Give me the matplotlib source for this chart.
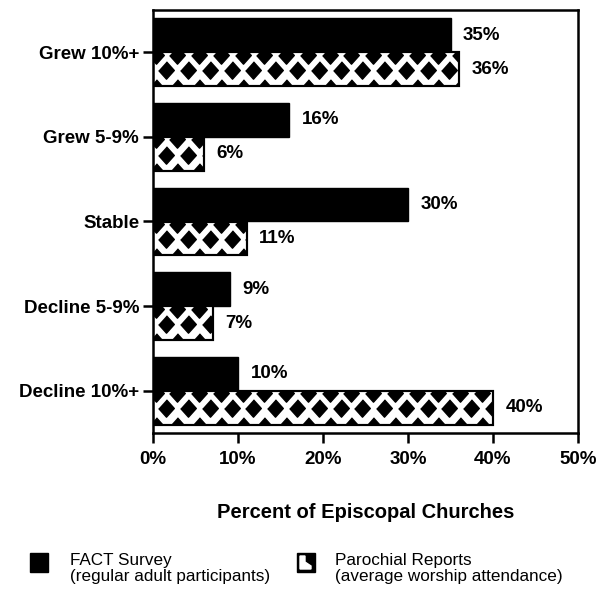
import numpy as np
import matplotlib.pyplot as plt
from matplotlib.patches import Rectangle, Polygon

plt.rcParams['font.family'] = ['Liberation Sans', 'DejaVu Sans']

categories = ['Grew 10%+', 'Grew 5-9%', 'Stable', 'Decline 5-9%', 'Decline 10%+']
fact_survey = [35, 16, 30, 9, 10]
parochial = [36, 6, 11, 7, 40]
xticks = [0, 10, 20, 30, 40, 50]

fig = plt.figure(figsize=(6.03, 5.99), dpi=100)
ax = fig.add_axes([153 / 603, 1 - 433 / 599, 425 / 603, 423 / 599])

y = np.arange(len(categories))
h = 0.4

ax.barh(y - h / 2, fact_survey, height=h, color='black', edgecolor='black', linewidth=1)
bars = ax.barh(y + h / 2, parochial, height=h, color='white', edgecolor='black', linewidth=1.5, zorder=2)

# diamond pattern inside the parochial bars
diamond = [(0, 1), (0.9, 0), (0, -1), (-0.9, 0)]
step = 2.56
for yi, val, bar in zip(y, parochial, bars):
    top = yi + 0.03
    rows = [(top, 0.3), (yi + h / 2 + 0.01, 0.3 + step / 2), (yi + h + 0.02, 0.3)]
    for ry, off in rows:
        xs = np.arange(off, val + step, step)
        pts, = ax.plot(xs, np.full_like(xs, ry), linestyle='none', marker=diamond,
                       markersize=12.5, color='black', zorder=3)
        pts.set_clip_path(bar)
    frame = Rectangle((0, yi), val, h, fill=False, edgecolor='black', linewidth=1.5, zorder=4)
    ax.add_patch(frame)

for yi, v in zip(y, fact_survey):
    ax.annotate(f'{v}%', (v, yi - h / 2), xytext=(9, 0), textcoords='offset points',
                va='center', ha='left', fontsize=13.5, fontweight='bold')
for yi, v in zip(y, parochial):
    ax.annotate(f'{v}%', (v, yi + h / 2), xytext=(9, 0), textcoords='offset points',
                va='center', ha='left', fontsize=13.5, fontweight='bold')

ax.set_xlim(0, 50)
ax.set_ylim(len(categories) - 0.5, -0.5)
ax.set_xticks(xticks)
ax.set_xticklabels([f'{t}%' for t in xticks], fontsize=13.5, fontweight='bold')
ax.set_yticks(y)
ax.set_yticklabels(categories, fontsize=13.5, fontweight='bold')
ax.tick_params(axis='x', length=7, width=1.8, pad=6)
ax.tick_params(axis='y', length=7, width=1.8, pad=3)
for s in ax.spines.values():
    s.set_linewidth(1.8)

fig.text(366 / 603, 1 - 513 / 599, 'Percent of Episcopal Churches', ha='center', va='center',
         fontsize=14.5, fontweight='bold')

# legend
fig.patches.append(Rectangle((30 / 603, 1 - 572 / 599), 18 / 603, 19 / 599, transform=fig.transFigure,
                             color='black'))
fig.patches.append(Rectangle((297 / 603, 1 - 572 / 599), 18 / 603, 19 / 599, transform=fig.transFigure,
                             color='black'))
fig.patches.append(Polygon([(300 / 603, 1 - 556 / 599), (305 / 603, 1 - 556 / 599), (305 / 603, 1 - 562 / 599),
                            (311 / 603, 1 - 566 / 599), (311 / 603, 1 - 569 / 599), (300 / 603, 1 - 569 / 599)],
                           transform=fig.transFigure, color='white'))
fig.text(70 / 603, 1 - 560 / 599, 'FACT Survey', ha='left', va='center', fontsize=12.3)
fig.text(70 / 603, 1 - 576 / 599, '(regular adult participants)', ha='left', va='center', fontsize=12.3)
fig.text(335 / 603, 1 - 560 / 599, 'Parochial Reports', ha='left', va='center', fontsize=12.3)
fig.text(335 / 603, 1 - 576 / 599, '(average worship attendance)', ha='left', va='center', fontsize=12.3)

fig.savefig('out.png', dpi=100)
